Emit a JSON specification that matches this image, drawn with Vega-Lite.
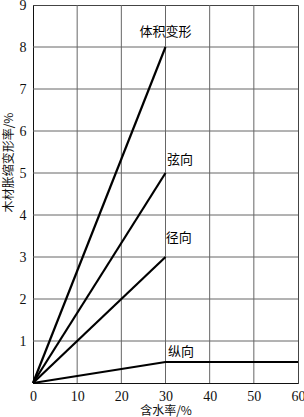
{
  "$schema": "https://vega.github.io/schema/vega-lite/v6.json",
  "width": 265,
  "height": 378,
  "autosize": "none",
  "padding": {"left": 33, "top": 5, "right": 6, "bottom": 34},
  "background": "white",
  "config": {
    "view": {"stroke": "#444", "strokeWidth": 1},
    "font": "Noto Sans CJK SC",
    "axis": {
      "grid": false,
      "labelFont": "Liberation Serif",
      "labelFontSize": 14,
      "labelColor": "#111",
      "titleFont": "Noto Sans CJK SC",
      "titleFontSize": 12,
      "titleFontWeight": "normal",
      "titleColor": "#111",
      "domainColor": "#111",
      "tickSize": 0
    }
  },
  "layer": [
    {
      "data": {"values": [{"gx": 10}, {"gx": 20}, {"gx": 30}, {"gx": 40}, {"gx": 50}]},
      "mark": {"type": "rule", "color": "#666", "strokeWidth": 1},
      "encoding": {"x": {"field": "gx", "type": "quantitative"}}
    },
    {
      "data": {"values": [{"gy": 1}, {"gy": 2}, {"gy": 3}, {"gy": 4}, {"gy": 5}, {"gy": 6}, {"gy": 7}, {"gy": 8}]},
      "mark": {"type": "rule", "color": "#666", "strokeWidth": 1},
      "encoding": {"y": {"field": "gy", "type": "quantitative"}}
    },
    {
      "data": {
        "values": [
          {"s": "体积变形", "x": 0, "y": 0},
          {"s": "体积变形", "x": 30, "y": 8},
          {"s": "弦向", "x": 0, "y": 0},
          {"s": "弦向", "x": 30, "y": 5},
          {"s": "径向", "x": 0, "y": 0},
          {"s": "径向", "x": 30, "y": 3},
          {"s": "纵向", "x": 0, "y": 0},
          {"s": "纵向", "x": 30, "y": 0.5},
          {"s": "纵向", "x": 60, "y": 0.5}
        ]
      },
      "mark": {"type": "line", "color": "#000", "strokeWidth": 2.2},
      "encoding": {
        "x": {
          "field": "x", "type": "quantitative",
          "scale": {"domain": [0, 60], "nice": false},
          "axis": {"tickCount": 6, "title": "含水率/%", "labelPadding": 6, "labelBaseline": "top", "titlePadding": 2, "titleBaseline": "top", "labelFlush": false}
        },
        "y": {
          "field": "y", "type": "quantitative",
          "scale": {"domain": [0, 9], "nice": false},
          "axis": {"tickCount": 9, "labelExpr": "datum.value == 0 ? '' : datum.label", "title": "木材胀缩变形率/%", "labelPadding": 7, "titleBaseline": "middle", "titleY": 157, "titleX": -25, "labelFlush": false}
        },
        "detail": {"field": "s", "type": "nominal"}
      }
    },
    {
      "data": {
        "values": [
          {"t": "体积变形", "x": 30, "y": 8.35},
          {"t": "弦向", "x": 33.3, "y": 5.3},
          {"t": "径向", "x": 33, "y": 3.45},
          {"t": "纵向", "x": 33.5, "y": 0.75}
        ]
      },
      "mark": {"type": "text", "fontSize": 13, "color": "#000", "font": "Noto Sans CJK SC"},
      "encoding": {
        "x": {"field": "x", "type": "quantitative"},
        "y": {"field": "y", "type": "quantitative"},
        "text": {"field": "t", "type": "nominal"}
      }
    }
  ]
}
